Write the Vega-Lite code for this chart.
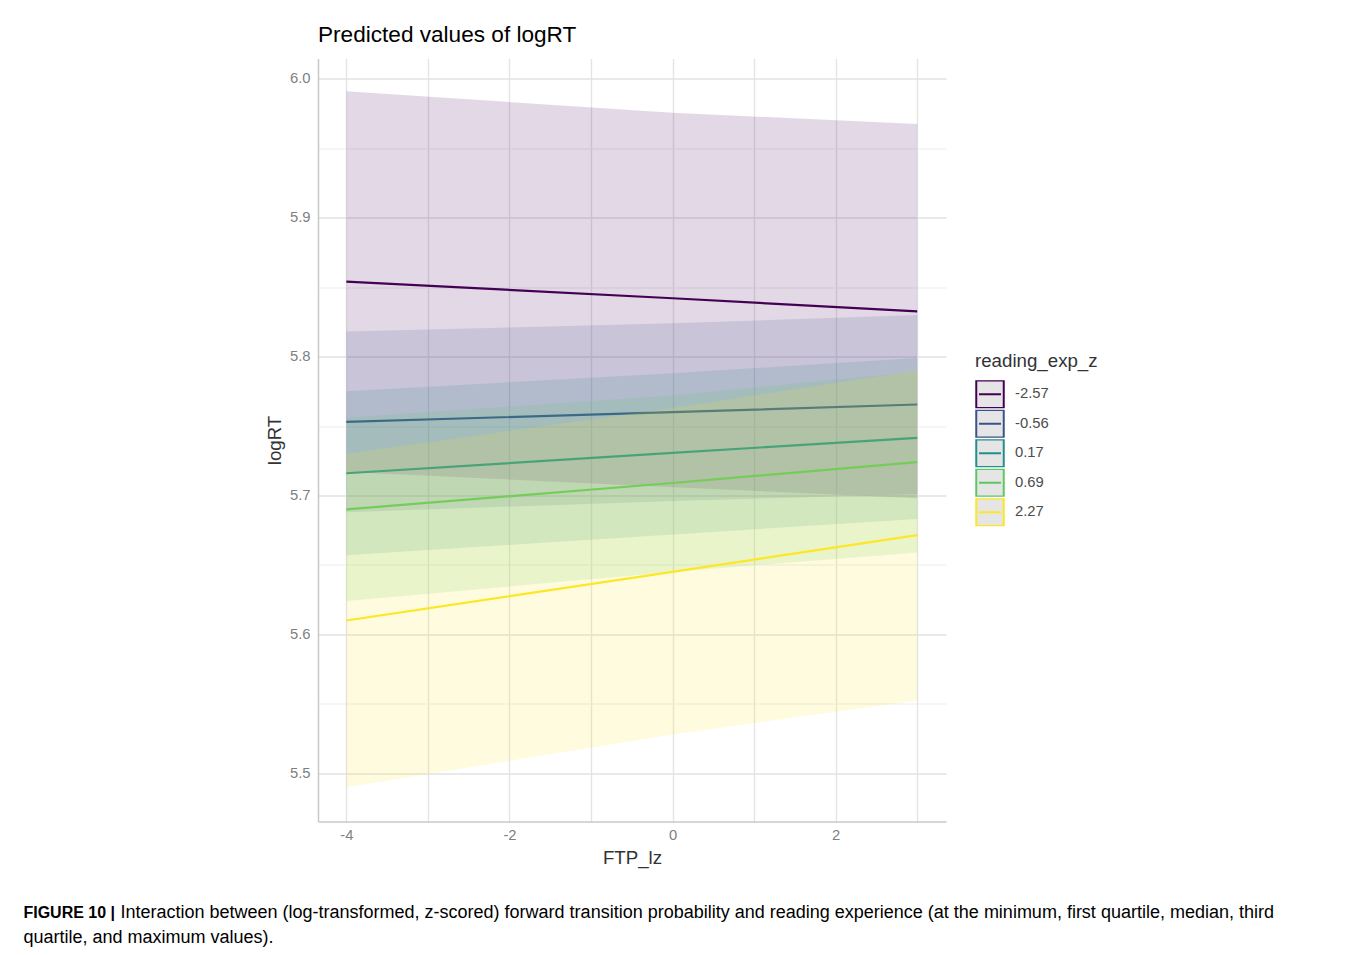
{
  "$schema": "https://vega.github.io/schema/vega-lite/v6.json",
  "padding": {"left": 23, "top": 23.5, "right": 0, "bottom": 0},
  "background": "white",
  "config": {
    "font": "Liberation Sans",
    "view": {"stroke": null},
    "concat": {"spacing": 0},
    "axis": {
      "domainColor": "#c8c8c8", "domainWidth": 1.5, "ticks": false,
      "labelColor": "#7f7f7f", "labelFontSize": 14.8, "labelFont": "Liberation Sans",
      "titleColor": "#333333", "titleFontSize": 18.7, "titleFontWeight": "normal", "titleFont": "Liberation Sans"
    }
  },
  "title": {
    "text": "Interaction between (log-transformed, z-scored) forward transition probability and reading experience (at the minimum, first quartile, median, third",
    "orient": "bottom", "anchor": "start", "dx": 97, "offset": -43,
    "fontSize": 18, "fontWeight": "normal", "color": "#000000", "font": "Liberation Sans"
  },
  "vconcat": [
    {
      "title": {
        "text": "FIGURE 10 |", "subtitle": "quartile, and maximum values).",
        "orient": "bottom", "anchor": "start", "dx": -242, "offset": 38,
        "fontSize": 16, "fontWeight": "bold", "color": "#000000", "font": "Liberation Sans",
        "subtitleFontSize": 18, "subtitleColor": "#000000", "subtitleFont": "Liberation Sans", "subtitleFontWeight": "normal", "subtitlePadding": 8
      },
      "vconcat": [
        {
          "title": {"text": "Predicted values of logRT", "anchor": "start", "frame": "group", "fontSize": 22.6, "fontWeight": "normal", "color": "#000000", "font": "Liberation Sans", "offset": 12},
          "width": 628,
          "height": 763,
          "data": {"values": [
            {"g": "-2.57", "x": -4, "y": 5.854, "lo": 5.717, "hi": 5.991},
            {"g": "-2.57", "x": 0, "y": 5.842, "lo": 5.706, "hi": 5.9755},
            {"g": "-2.57", "x": 3, "y": 5.8325, "lo": 5.698, "hi": 5.9675},
            {"g": "-0.56", "x": -4, "y": 5.753, "lo": 5.688, "hi": 5.818},
            {"g": "-0.56", "x": 0, "y": 5.760, "lo": 5.696, "hi": 5.824},
            {"g": "-0.56", "x": 3, "y": 5.7655, "lo": 5.701, "hi": 5.830},
            {"g": "0.17", "x": -4, "y": 5.716, "lo": 5.657, "hi": 5.775},
            {"g": "0.17", "x": 0, "y": 5.7307, "lo": 5.672, "hi": 5.788},
            {"g": "0.17", "x": 3, "y": 5.7415, "lo": 5.683, "hi": 5.799},
            {"g": "0.69", "x": -4, "y": 5.690, "lo": 5.624, "hi": 5.756},
            {"g": "0.69", "x": 0, "y": 5.709, "lo": 5.645, "hi": 5.772},
            {"g": "0.69", "x": 3, "y": 5.724, "lo": 5.659, "hi": 5.789},
            {"g": "2.27", "x": -4, "y": 5.610, "lo": 5.490, "hi": 5.730},
            {"g": "2.27", "x": 0, "y": 5.645, "lo": 5.528, "hi": 5.763},
            {"g": "2.27", "x": 3, "y": 5.6715, "lo": 5.5525, "hi": 5.790}
          ]},
          "encoding": {
            "x": {"field": "x", "type": "quantitative", "title": "FTP_lz",
              "scale": {"domain": [-4.348, 3.353], "nice": false, "zero": false},
              "axis": {"values": [-4, -3, -2, -1, 0, 1, 2, 3], "labelExpr": "datum.value % 2 == 0 ? '' + datum.value : ''",
                "labelPadding": 6, "titlePadding": 6, "labelFlush": false,
                "gridColor": "#e4e4e4", "gridWidth": 1.4}}
          },
          "layer": [
            {"transform": [{"filter": "datum.g == '-2.57'"}], "mark": {"type": "area", "color": "#440154", "opacity": 0.15},
             "encoding": {"y": {"field": "lo", "type": "quantitative", "title": "logRT",
               "scale": {"domain": [5.4653, 6.0146], "nice": false, "zero": false},
               "axis": {"values": [5.5, 5.55, 5.6, 5.65, 5.7, 5.75, 5.8, 5.85, 5.9, 5.95, 6.0],
                 "labelExpr": "abs(round(datum.value * 20)) % 2 == 0 ? format(datum.value, '.1f') : ''",
                 "labelPadding": 8, "titlePadding": 5,
                 "gridColor": {"condition": {"test": "abs(round(datum.value * 20)) % 2 == 0", "value": "#e2e2e2"}, "value": "#ececec"},
                 "gridWidth": {"condition": {"test": "abs(round(datum.value * 20)) % 2 == 0", "value": 1.6}, "value": 1.1}}},
               "y2": {"field": "hi"}}},
            {"transform": [{"filter": "datum.g == '-2.57'"}], "mark": {"type": "line", "strokeWidth": 2.2},
             "encoding": {"y": {"field": "y", "type": "quantitative"},
               "stroke": {"field": "g", "type": "nominal",
                 "scale": {"domain": ["-2.57", "-0.56", "0.17", "0.69", "2.27"], "range": ["#440154", "#3B528B", "#21908C", "#5DC863", "#FDE725"]},
                 "legend": {"orient": "none", "legendX": 657, "legendY": 293.5, "title": "reading_exp_z",
                   "titleFontSize": 18.7, "titleColor": "#333333", "titleFontWeight": "normal", "titlePadding": 9.5, "titleFont": "Liberation Sans",
                   "labelFontSize": 14.8, "labelColor": "#4d4d4d", "labelOffset": 10, "labelFont": "Liberation Sans",
                   "symbolType": "M-1,-1H1V1H-1Z M-0.8,0H0.8", "symbolSize": 756, "symbolStrokeWidth": 2, "rowPadding": 1.5, "clipHeight": 28,
                   "symbolFillColor": "#e5e5e5"}}}},
            {"transform": [{"filter": "datum.g == '-0.56'"}], "mark": {"type": "area", "color": "#3B528B", "opacity": 0.15}, "encoding": {"y": {"field": "lo", "type": "quantitative"}, "y2": {"field": "hi"}}},
            {"transform": [{"filter": "datum.g == '-0.56'"}], "mark": {"type": "line", "strokeWidth": 2.2}, "encoding": {"y": {"field": "y", "type": "quantitative"}, "stroke": {"field": "g", "type": "nominal"}}},
            {"transform": [{"filter": "datum.g == '0.17'"}], "mark": {"type": "area", "color": "#21908C", "opacity": 0.15}, "encoding": {"y": {"field": "lo", "type": "quantitative"}, "y2": {"field": "hi"}}},
            {"transform": [{"filter": "datum.g == '0.17'"}], "mark": {"type": "line", "strokeWidth": 2.2}, "encoding": {"y": {"field": "y", "type": "quantitative"}, "stroke": {"field": "g", "type": "nominal"}}},
            {"transform": [{"filter": "datum.g == '0.69'"}], "mark": {"type": "area", "color": "#5DC863", "opacity": 0.15}, "encoding": {"y": {"field": "lo", "type": "quantitative"}, "y2": {"field": "hi"}}},
            {"transform": [{"filter": "datum.g == '0.69'"}], "mark": {"type": "line", "strokeWidth": 2.2}, "encoding": {"y": {"field": "y", "type": "quantitative"}, "stroke": {"field": "g", "type": "nominal"}}},
            {"transform": [{"filter": "datum.g == '2.27'"}], "mark": {"type": "area", "color": "#FDE725", "opacity": 0.15}, "encoding": {"y": {"field": "lo", "type": "quantitative"}, "y2": {"field": "hi"}}},
            {"transform": [{"filter": "datum.g == '2.27'"}], "mark": {"type": "line", "strokeWidth": 2.2}, "encoding": {"y": {"field": "y", "type": "quantitative"}, "stroke": {"field": "g", "type": "nominal"}}}
          ]
        }
      ]
    }
  ]
}
